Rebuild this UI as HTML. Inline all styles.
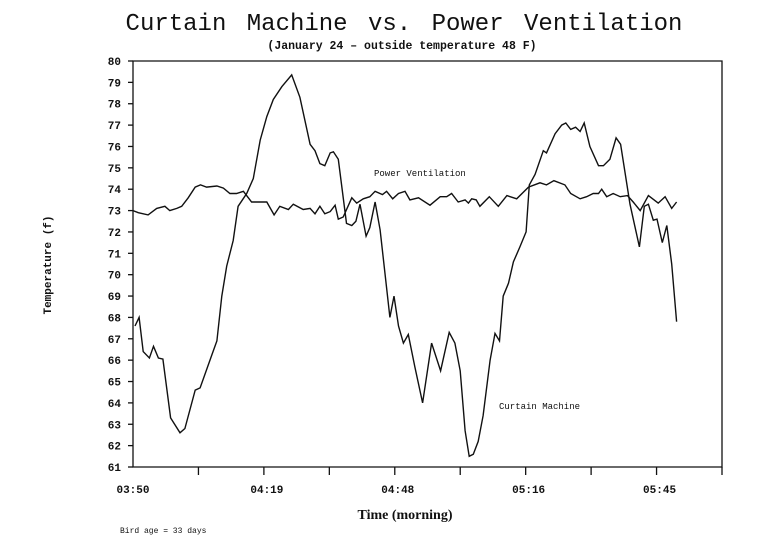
<!DOCTYPE html>
<html><head><meta charset="utf-8"><style>
body{margin:0;background:#fff;}
svg text{fill:#111;}
</style></head><body>
<svg width="771" height="544" viewBox="0 0 771 544" xmlns="http://www.w3.org/2000/svg">
<text x="404" y="30" text-anchor="middle" font-family="Liberation Mono, monospace" font-size="24" word-spacing="6">Curtain Machine vs. Power Ventilation</text>
<text x="402" y="49" text-anchor="middle" font-family="Liberation Mono, monospace" font-weight="bold" font-size="11.5">(January 24 – outside temperature 48 F)</text>
<text transform="translate(51,265) rotate(-90)" text-anchor="middle" font-family="Liberation Mono, monospace" font-weight="bold" font-size="11">Temperature (f)</text>
<text x="405" y="519" text-anchor="middle" font-family="Liberation Serif, serif" font-weight="bold" font-size="14">Time (morning)</text>
<text x="120" y="533" font-family="Liberation Mono, monospace" font-size="8">Bird age = 33 days</text>
<g id="axes" stroke="#111" stroke-width="1.3" fill="none"></g>
<g id="marks" fill="none" stroke="#111" stroke-width="1.4"></g>
<text x="374" y="176" font-family="Liberation Mono, monospace" font-size="9">Power Ventilation</text>
<text x="499" y="409" font-family="Liberation Mono, monospace" font-size="9">Curtain Machine</text>
</svg>
<script>
const yTicks=[61,62,63,64,65,66,67,68,69,70,71,72,73,74,75,76,77,78,79,80];
const xTickLabels=["03:50","04:19","04:48","05:16","05:45"];
const xTickIndex=[0,2,4,6,8];
const curtainMin=[0.5,1.5,2.5,4.0,5.0,6.2,7.3,9.2,11.5,12.7,15.2,16.4,19.2,20.5,21.7,22.9,24.5,25.7,27.8,29.4,31.1,32.7,34.3,36.4,38.8,40.8,43.3,44.5,45.7,46.9,48.2,49.0,50.2,52.2,53.5,54.5,55.5,57.0,57.9,59.2,60.4,62.8,63.8,64.9,66.1,67.3,68.9,70.8,73.0,75.2,77.3,78.7,80.0,81.2,82.2,83.2,84.4,85.6,87.3,88.5,89.6,90.5,91.8,93.0,94.6,96.1,96.9,98.3,100.3,101.1,103.2,104.8,105.8,107.0,108.2,109.3,110.3,111.7,113.8,115.0,116.6,118.1,119.2,121.5,123.8,125.0,126.0,127.2,128.1,129.4,130.5,131.7,132.9];
const curtainTemp=[67.6,68.0,66.4,66.1,66.65,66.1,66.05,63.3,62.6,62.8,64.6,64.7,66.2,66.9,69.0,70.4,71.6,73.2,73.8,74.5,76.3,77.4,78.2,78.8,79.35,78.3,76.1,75.8,75.2,75.1,75.7,75.75,75.4,72.4,72.3,72.5,73.3,71.8,72.2,73.4,72.1,68.0,69.0,67.6,66.8,67.2,65.7,64.0,66.8,65.5,67.3,66.8,65.5,62.7,61.5,61.6,62.2,63.4,66.0,67.25,66.9,69.0,69.6,70.6,71.3,72.0,74.2,74.7,75.8,75.7,76.6,77.0,77.1,76.8,76.9,76.7,77.1,76.0,75.1,75.1,75.4,76.4,76.1,73.3,71.3,73.2,73.3,72.55,72.6,71.5,72.3,70.5,67.8];
const powerMin=[0,1.3,3.7,5.8,7.8,9.0,10.7,11.9,13.5,15.2,16.5,18.0,20.5,22.1,23.7,25.3,27.0,29.0,32.7,34.5,35.9,38.0,39.2,41.6,43.3,44.5,45.7,46.9,48.2,49.4,50.2,51.4,53.5,54.7,56.3,57.9,59.2,61.0,62.0,63.5,64.9,66.5,67.7,69.8,72.6,75.1,76.7,77.9,79.5,81.2,82.0,82.8,83.9,84.8,87.1,89.3,91.4,93.8,96.7,99.5,101.1,102.9,105.6,107.0,109.3,110.9,112.5,113.8,114.6,115.8,117.4,119.1,120.9,122.3,124.0,126.0,128.4,130.1,131.7,132.9];
const powerTemp=[73.0,72.9,72.8,73.1,73.2,73.0,73.1,73.2,73.6,74.1,74.2,74.1,74.15,74.05,73.8,73.8,73.9,73.4,73.4,72.8,73.2,73.05,73.3,73.05,73.1,72.85,73.2,72.85,72.95,73.25,72.6,72.7,73.6,73.35,73.55,73.65,73.9,73.75,73.9,73.55,73.8,73.9,73.5,73.6,73.25,73.65,73.65,73.8,73.4,73.5,73.35,73.55,73.5,73.2,73.65,73.2,73.7,73.55,74.1,74.3,74.2,74.4,74.2,73.8,73.55,73.65,73.8,73.8,74.0,73.65,73.8,73.65,73.7,73.4,73.0,73.7,73.35,73.65,73.1,73.4];

const L=133,R=722,T=61,B=467,NS="http://www.w3.org/2000/svg";
const xs=m=>L+m*(R-L)/144;
const xt=i=>L+i*(R-L)/9;
const ys=t=>B-(t-61)*(B-T)/19;
const axes=document.getElementById('axes'),marks=document.getElementById('marks'),svg=axes.parentNode;
function mk(tag,attrs,parent){const e=document.createElementNS(NS,tag);for(const k in attrs)e.setAttribute(k,attrs[k]);parent.appendChild(e);return e;}
let f=mk('path',{d:`M${L},${T}H${R}V${B}H${L}Z`},axes);


yTicks.forEach(v=>{
  const t=mk('line',{x1:L-5,x2:L,y1:ys(v),y2:ys(v)},axes);
  
  
  const l=mk('text',{x:L-12,y:ys(v)+4,'text-anchor':'end','font-family':'Liberation Mono, monospace','font-weight':'bold','font-size':'11'},svg);
  l.textContent=v;
  
  
});
for(let i=1;i<=9;i++){
  const t=mk('line',{x1:xt(i),x2:xt(i),y1:B,y2:B+8},axes);
  
  
}
xTickLabels.forEach((s,i)=>{
  const l=mk('text',{x:xt(xTickIndex[i])+(i?3:0),y:B+26,'text-anchor':'middle','font-family':'Liberation Mono, monospace','font-weight':'bold','font-size':'11'},svg);
  l.textContent=s;
  
  
});
function line(mins,temps,name){
  const d=mins.map((m,i)=>(i?'L':'M')+xs(m).toFixed(1)+','+ys(temps[i]).toFixed(1)).join('');
  const p=mk('path',{d:d},marks);
  
  
}
line(powerMin,powerTemp,'power-ventilation-line');
line(curtainMin,curtainTemp,'curtain-machine-line');
</script>
</body></html>
